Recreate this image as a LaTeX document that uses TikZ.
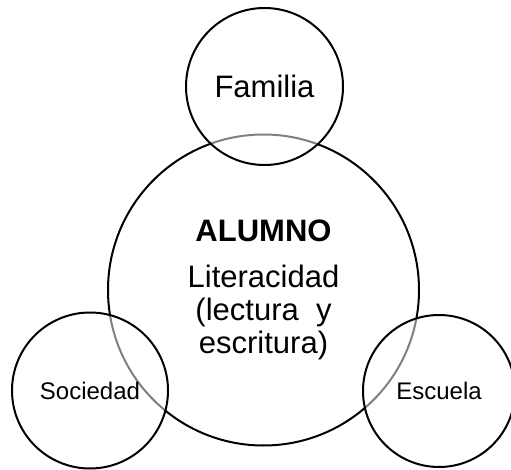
\documentclass[tikz,border=0pt]{standalone}
\usepackage{fontspec}
\setmainfont{Liberation Sans}
\begin{document}
\begin{tikzpicture}
        [x=1pt, y=-1pt,
         ring/.style={circle, draw=black, line width=2pt, inner sep=0pt, align=center},
         over/.style={fill=white, fill opacity=0.5, text opacity=1}]
        \useasboundingbox (0,0) rectangle (511,470);
        % centre
        \node [ring, fill=white, minimum size=311pt, font=\fontsize{31}{33}\selectfont] (alumno) at (263.5,290)
              {\textbf{ALUMNO}\\[13pt] Literacidad\\ (lectura~ y\\ escritura)};
        % around it
        \node [ring, over, minimum size=157pt, font=\fontsize{31}{33}\selectfont] (familia) at (264.5,86.5) {Familia};
        \node [ring, over, minimum size=156pt, font=\fontsize{24}{26}\selectfont] (sociedad) at (90,390.5) {Sociedad};
        \node [ring, over, minimum size=152pt, font=\fontsize{24}{26}\selectfont] (escuela) at (439,391) {Escuela};
    \end{tikzpicture}
\end{document}
